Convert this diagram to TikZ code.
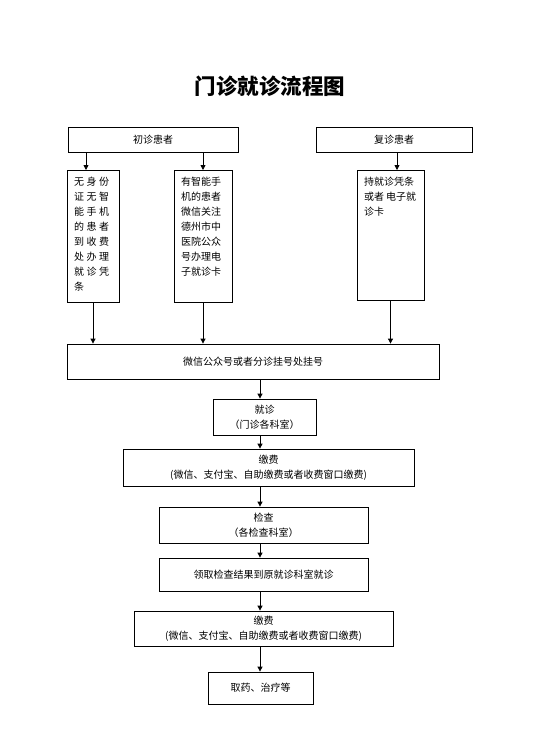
\documentclass[tikz,border=0pt]{standalone}
\usepackage{fontspec}
\setmainfont{Noto Sans CJK SC}
\usetikzlibrary{arrows.meta,positioning}

\begin{document}
\begin{tikzpicture}[
    x=1pt, y=-1pt,
    box/.style={rectangle, draw, line width=0.8pt, inner sep=0pt, align=center, font=\fontsize{10}{15}\selectfont},
    tallbox/.style={rectangle, draw, line width=0.8pt, inner xsep=7pt, inner ysep=7pt, anchor=north, font=\fontsize{10}{15}\selectfont},
    arrow/.style={-{Triangle[length=5pt,width=5pt]}, line width=0.8pt}
]
\useasboundingbox (0,0) rectangle (535,739);

% Title
\node[font=\fontsize{21.5}{24}\selectfont\bfseries] (title) at (270,86) {门诊就诊流程图};

% First visit / return visit
\node[box, minimum width=170pt, minimum height=25pt] (chu) at (153,139.5) {初诊患者};
\node[box, minimum width=156pt, minimum height=25pt] (fu) at (394,139.5) {复诊患者};

% Ways to get a card
\node[tallbox] (wu) at (93,170) {\parbox[c][118pt][t]{38pt}{\raggedright
  无\hspace{2.5pt}身\hspace{2.5pt}份\\证\hspace{2.5pt}无\hspace{2.5pt}智\\能\hspace{2.5pt}手\hspace{2.5pt}机\\
  的\hspace{2.5pt}患\hspace{2.5pt}者\\到\hspace{2.5pt}收\hspace{2.5pt}费\\处\hspace{2.5pt}办\hspace{2.5pt}理\\
  就\hspace{2.5pt}诊\hspace{2.5pt}凭\\条}};
\node[tallbox] (you) at (203,170) {\parbox[c][118pt][t]{44pt}{\raggedright
  有智能手\\机的患者\\微信关注\\德州市中\\医院公众\\号办理电\\子就诊卡}};
\node[tallbox] (chi) at (390.5,170) {\parbox[c][116pt][t]{53pt}{\raggedright
  持就诊凭条\\或者\kern2pt 电子就\\诊卡}};

% Main steps
\node[box, minimum width=372pt, minimum height=35pt] (gua) at (253,361.5) {微信公众号或者分诊挂号处挂号};
\node[box, minimum width=103pt, minimum height=36pt] (jz) at (264.5,417) {就诊\\（门诊各科室）};
\node[box, minimum width=291pt, minimum height=37pt] (jf1) at (268.5,467.5) {缴费\\(微信、支付宝、自助缴费或者收费窗口缴费)};
\node[box, minimum width=209pt, minimum height=36pt] (jc) at (263.5,525) {检查\\（各检查科室）};
\node[box, minimum width=209pt, minimum height=33pt] (lq) at (263.5,574.5) {领取检查结果到原就诊科室就诊};
\node[box, minimum width=259pt, minimum height=35pt] (jf2) at (263.5,628.5) {缴费\\(微信、支付宝、自助缴费或者收费窗口缴费)};
\node[box, minimum width=105pt, minimum height=32pt] (qy) at (260.5,688) {取药、治疗等};

% Arrow columns
\coordinate (a1) at (86,0);
\coordinate (a3) at (397,0);
\coordinate (spine) at (260,0);

\draw[arrow] (chu.south -| a1) -- (wu.north -| a1);
\draw[arrow] (chu.south -| you) -- (you.north);
\draw[arrow] (fu.south -| a3) -- (chi.north -| a3);

\draw[arrow] (wu.south) -- (wu.south |- gua.north);
\draw[arrow] (you.south) -- (you.south |- gua.north);
\draw[arrow] (chi.south) -- (chi.south |- gua.north);

\draw[arrow] (gua.south -| spine) -- (jz.north -| spine);
\draw[arrow] (jz.south -| spine) -- (jf1.north -| spine);
\draw[arrow] (jf1.south -| spine) -- (jc.north -| spine);
\draw[arrow] (jc.south -| spine) -- (lq.north -| spine);
\draw[arrow] (lq.south -| spine) -- (jf2.north -| spine);
\draw[arrow] (jf2.south -| spine) -- (qy.north -| spine);

\end{tikzpicture}
\end{document}
